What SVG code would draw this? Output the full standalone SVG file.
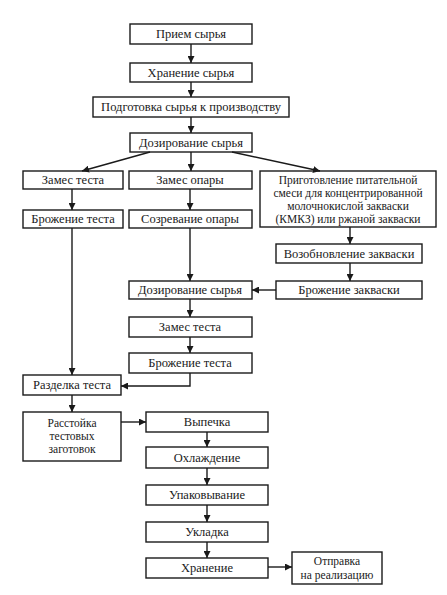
<svg xmlns="http://www.w3.org/2000/svg" width="447" height="595" viewBox="0 0 447 595">
<defs>
<style>
rect{fill:#fff;stroke:#1a1a1a;stroke-width:1.4}
text{font-family:'Liberation Serif','DejaVu Serif',serif;font-size:12.5px;fill:#1a1a1a;text-anchor:middle}
text.m{font-size:11.5px}
.c line,.c path{stroke:#1a1a1a;stroke-width:1.4;fill:none}
</style>
<marker id="a" viewBox="0 0 10 10" refX="10" refY="5" markerWidth="7" markerHeight="7" markerUnits="userSpaceOnUse" orient="auto"><path d="M0,0L10,5L0,10z" fill="#1a1a1a"/></marker>
</defs>
<rect x="0" y="0" width="447" height="595" style="fill:#fff;stroke:none"/>
<g font-family="Liberation Serif, DejaVu Serif, serif">
<g id="n1"><rect x="130" y="24" width="122" height="20"/><text x="191" y="38">Прием сырья</text></g>
<g id="n2"><rect x="130" y="63" width="122" height="19"/><text x="191" y="77">Хранение сырья</text></g>
<g id="n3"><rect x="93" y="97" width="196" height="20"/><text x="191" y="111">Подготовка сырья к производству</text></g>
<g id="n4"><rect x="130" y="133" width="122" height="19"/><text x="191" y="147">Дозирование сырья</text></g>
<g id="n5"><rect x="23" y="171" width="100" height="18"/><text x="73" y="184">Замес теста</text></g>
<g id="n6"><rect x="23" y="210" width="100" height="18"/><text x="73" y="223">Брожение теста</text></g>
<g id="n7"><rect x="129" y="171" width="123" height="18"/><text x="190" y="184">Замес опары</text></g>
<g id="n8"><rect x="129" y="210" width="123" height="18"/><text x="190" y="223">Созревание опары</text></g>
<g id="n9"><rect x="260" y="171" width="176" height="56"/><text class="m" x="348" y="184">Приготовление питательной</text><text class="m" x="348" y="197">смеси для концентрированной</text><text class="m" x="348" y="210">молочнокислой закваски</text><text class="m" x="348" y="223">(КМКЗ) или ржаной закваски</text></g>
<g id="n10"><rect x="276" y="244" width="146" height="19"/><text x="349" y="258">Возобновление закваски</text></g>
<g id="n11"><rect x="276" y="281" width="146" height="18"/><text x="349" y="294">Брожение закваски</text></g>
<g id="n12"><rect x="129" y="281" width="123" height="18"/><text x="190" y="294">Дозирование сырья</text></g>
<g id="n13"><rect x="129" y="317" width="123" height="20"/><text x="190" y="331">Замес теста</text></g>
<g id="n14"><rect x="129" y="353" width="123" height="20"/><text x="190" y="367">Брожение теста</text></g>
<g id="n15"><rect x="23" y="375" width="98" height="20"/><text x="72" y="389">Разделка теста</text></g>
<g id="n16"><rect x="23" y="412" width="98" height="49"/><text class="m" x="72" y="427">Расстойка</text><text class="m" x="72" y="440">тестовых</text><text class="m" x="72" y="453">заготовок</text></g>
<g id="n17"><rect x="146" y="412" width="122" height="20"/><text x="207" y="426">Выпечка</text></g>
<g id="n18"><rect x="146" y="447" width="122" height="21"/><text x="207" y="462">Охлаждение</text></g>
<g id="n19"><rect x="146" y="485" width="122" height="20"/><text x="207" y="499">Упаковывание</text></g>
<g id="n20"><rect x="146" y="522" width="122" height="20"/><text x="207" y="536">Укладка</text></g>
<g id="n21"><rect x="146" y="558" width="122" height="20"/><text x="207" y="572">Хранение</text></g>
<g id="n22"><rect x="292" y="552" width="90" height="32"/><text class="m" x="337" y="565">Отправка</text><text class="m" x="337" y="579">на реализацию</text></g>
</g>
<g id="connectors" class="c">
<line x1="191" y1="44" x2="191" y2="63" marker-end="url(#a)"/>
<line x1="191" y1="82" x2="191" y2="97" marker-end="url(#a)"/>
<line x1="191" y1="117" x2="191" y2="133" marker-end="url(#a)"/>
<line x1="150" y1="152" x2="82" y2="171" marker-end="url(#a)"/>
<line x1="191" y1="152" x2="191" y2="171" marker-end="url(#a)"/>
<line x1="232" y1="152" x2="320" y2="171" marker-end="url(#a)"/>
<line x1="72" y1="189" x2="72" y2="210" marker-end="url(#a)"/>
<line x1="190" y1="189" x2="190" y2="210" marker-end="url(#a)"/>
<line x1="72" y1="228" x2="72" y2="375" marker-end="url(#a)"/>
<line x1="190" y1="228" x2="190" y2="281" marker-end="url(#a)"/>
<line x1="350" y1="227" x2="350" y2="244" marker-end="url(#a)"/>
<line x1="350" y1="263" x2="350" y2="281" marker-end="url(#a)"/>
<line x1="276" y1="290" x2="252" y2="290" marker-end="url(#a)"/>
<line x1="190" y1="299" x2="190" y2="317" marker-end="url(#a)"/>
<line x1="190" y1="337" x2="190" y2="353" marker-end="url(#a)"/>
<path d="M190,373V386H121" marker-end="url(#a)"/>
<line x1="72" y1="395" x2="72" y2="412" marker-end="url(#a)"/>
<line x1="121" y1="422" x2="146" y2="422" marker-end="url(#a)"/>
<line x1="207" y1="432" x2="207" y2="447" marker-end="url(#a)"/>
<line x1="207" y1="468" x2="207" y2="485" marker-end="url(#a)"/>
<line x1="207" y1="505" x2="207" y2="522" marker-end="url(#a)"/>
<line x1="207" y1="542" x2="207" y2="558" marker-end="url(#a)"/>
<line x1="268" y1="567" x2="292" y2="567" marker-end="url(#a)"/>
</g>
</svg>
